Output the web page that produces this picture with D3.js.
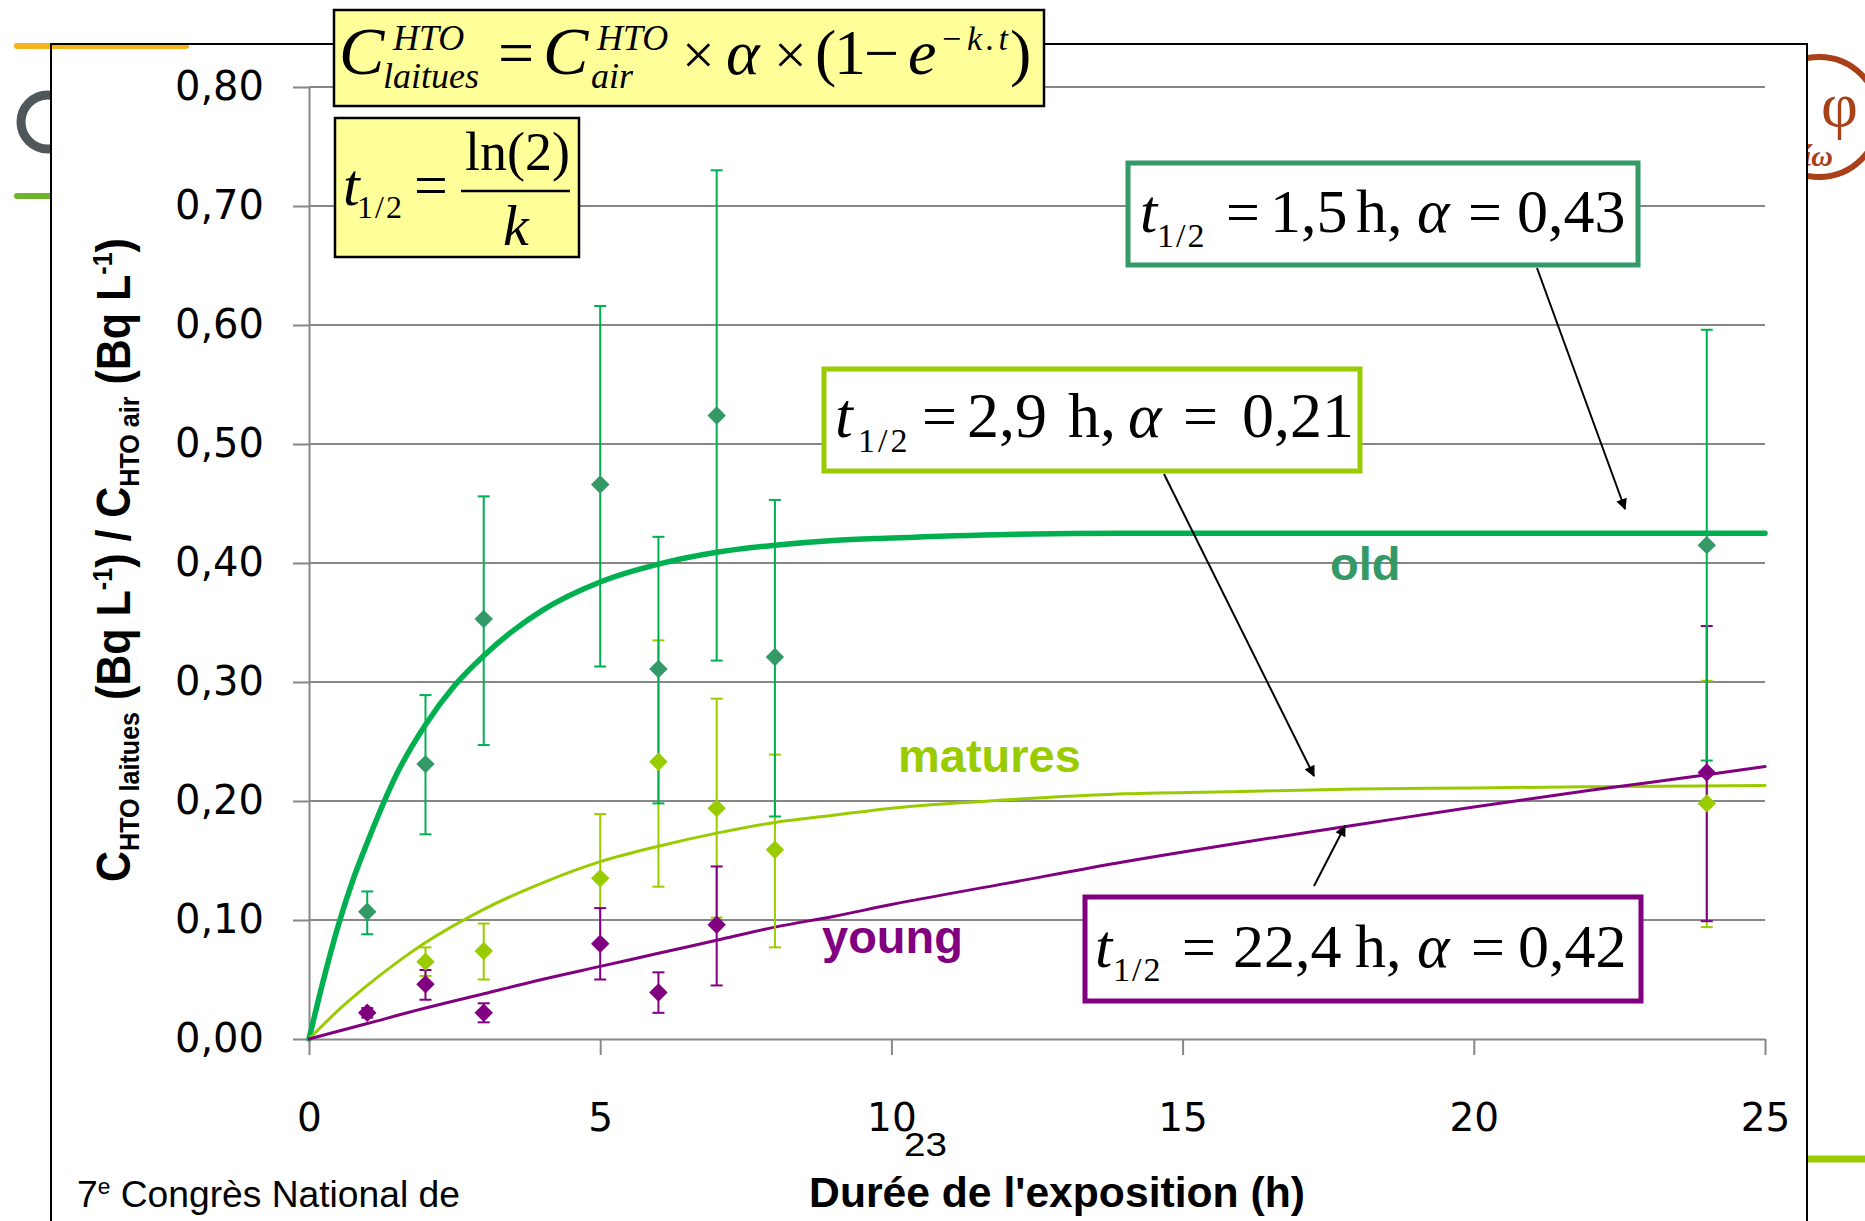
<!DOCTYPE html>
<html>
<head>
<meta charset="utf-8">
<script src="https://cdn.jsdelivr.net/npm/d3@7"></script>
<style>
  body { margin: 0; background: white; }
  svg { display: block; }
  .axis text { font-family: 'DejaVu Sans', sans-serif; fill: black; }
  .axis path, .axis line { stroke: #878787; stroke-width: 2; }
  .serif { font-family: 'Liberation Serif', 'Times New Roman', serif; fill: black; }
</style>
</head>
<body>
<div id="graph"></div>
<script>

  // measured points (exposure time in h, ratio C laitues / C air)
  const oldTimes = [1, 2, 3, 5, 6, 7, 8, 24];
  const oldValues = [0.107, 0.231, 0.353, 0.466, 0.311, 0.524, 0.321, 0.415];
  const oldHigh = [0.124, 0.289, 0.456, 0.616, 0.422, 0.730, 0.453, 0.596];
  const oldLow = [0.088, 0.172, 0.247, 0.313, 0.198, 0.318, 0.187, 0.234];

  const maturesTimes = [2, 3, 5, 6, 7, 8, 24];
  const maturesValues = [0.065, 0.074, 0.135, 0.233, 0.194, 0.159, 0.198];
  const maturesHigh = [0.077, 0.097, 0.189, 0.335, 0.286, 0.239, 0.301];
  const maturesLow = [0.053, 0.050, 0.081, 0.128, 0.102, 0.077, 0.094];

  const youngTimes = [1, 2, 3, 5, 6, 7, 24];
  const youngValues = [0.022, 0.046, 0.022, 0.080, 0.039, 0.096, 0.224];
  const youngHigh = [0.026, 0.058, 0.030, 0.110, 0.056, 0.145, 0.347];
  const youngLow = [0.018, 0.033, 0.014, 0.050, 0.022, 0.045, 0.099];

  // fitted curves
  const oldCurveT = [0, 0.25, 0.5, 0.75, 1, 1.5, 2, 2.5, 3, 3.5, 4, 5, 6, 7, 8, 9, 10, 12, 14, 25];
  const oldCurveV = [0, 0.050, 0.095, 0.133, 0.165, 0.222, 0.264, 0.297, 0.322, 0.343, 0.360, 0.384, 0.399, 0.409, 0.415, 0.419, 0.421, 0.424, 0.425, 0.425];
  const maturesCurveT = [0, 0.5, 1, 1.5, 2, 3, 4, 5, 6, 7, 8, 9, 10, 12, 14, 16, 18, 20, 22, 25];
  const maturesCurveV = [0, 0.024, 0.045, 0.064, 0.081, 0.109, 0.131, 0.149, 0.162, 0.173, 0.182, 0.188, 0.194, 0.201, 0.206, 0.208, 0.210, 0.211, 0.212, 0.213];
  const youngCurveT = [0, 1, 2, 3, 4, 5, 6, 7, 8, 9, 10, 12, 14, 16, 18, 20, 22, 24, 25];
  const youngCurveV = [0, 0.013, 0.026, 0.038, 0.050, 0.061, 0.072, 0.083, 0.094, 0.103, 0.113, 0.131, 0.149, 0.165, 0.180, 0.195, 0.209, 0.222, 0.229];

  const xTicks = [0, 5, 10, 15, 20, 25];
  const xTickLabels = ['0', '5', '10', '15', '20', '25'];
  const yTicks = [0, 0.1, 0.2, 0.3, 0.4, 0.5, 0.6, 0.7, 0.8];
  const yTickLabels = ['0,00', '0,10', '0,20', '0,30', '0,40', '0,50', '0,60', '0,70', '0,80'];

  const W = 1865, H = 1221;
  const svg = d3.select('#graph').append('svg')
    .attr('width', W).attr('height', H);

  // ---- slide decorations behind the chart frame
  svg.append('circle').attr('cx', 48).attr('cy', 122).attr('r', 27)
    .style('fill', 'none').style('stroke', '#50575b').style('stroke-width', 9);
  svg.append('line').attr('x1', 17).attr('x2', 60).attr('y1', 196).attr('y2', 196)
    .style('stroke', '#6db52a').style('stroke-width', 6).style('stroke-linecap', 'round');
  svg.append('circle').attr('cx', 1819).attr('cy', 117).attr('r', 60)
    .style('fill', 'none').style('stroke', '#a8401a').style('stroke-width', 6);
  svg.append('text').attr('class', 'serif').attr('x', 1821).attr('y', 126)
    .style('font-size', '64px').style('fill', '#a8401a').text('φ');
  svg.append('text').attr('class', 'serif').attr('x', 1803).attr('y', 166)
    .style('font-size', '30px').style('font-style', 'italic').style('font-weight', 'bold')
    .style('fill', '#a8401a').text('ίω');
  svg.append('line').attr('x1', 1800).attr('x2', 1865).attr('y1', 1159).attr('y2', 1159)
    .style('stroke', '#99cc00').style('stroke-width', 7);

  // chart frame
  svg.append('rect').attr('x', 51).attr('y', 44).attr('width', 1756).attr('height', 1200)
    .style('fill', 'white');
  svg.append('line').attr('x1', 17).attr('x2', 186).attr('y1', 46).attr('y2', 46)
    .style('stroke', '#f5b21a').style('stroke-width', 6).style('stroke-linecap', 'round');
  svg.append('rect').attr('x', 51).attr('y', 44).attr('width', 1756).attr('height', 1200)
    .style('fill', 'none').style('stroke', 'black').style('stroke-width', 2);

  // ---- scales & axes
  const x = d3.scaleLinear().domain([0, 25]).range([309, 1765]);
  const y = d3.scaleLinear().domain([0, 0.8]).range([1039, 87]);

  svg.append('g').selectAll('line.grid')
    .data(yTicks.slice(1)).enter().append('line')
    .attr('x1', x(0)).attr('x2', x(25))
    .attr('y1', d => y(d)).attr('y2', d => y(d))
    .style('stroke', '#878787').style('stroke-width', 2);

  svg.append('g').attr('class', 'axis')
    .attr('transform', 'translate(0,' + y(0) + ')')
    .call(d3.axisBottom(x).tickValues(xTicks).tickFormat((d, i) => xTickLabels[i])
      .tickSize(16).tickSizeOuter(0).tickPadding(48))
    .selectAll('text').style('font-size', '39px');

  svg.append('g').attr('class', 'axis')
    .attr('transform', 'translate(' + x(0) + ',0)')
    .call(d3.axisLeft(y).tickValues(yTicks).tickFormat((d, i) => yTickLabels[i])
      .tickSize(16).tickSizeOuter(0).tickPadding(29))
    .selectAll('text').style('font-size', '40px');

  // ---- curves
  const line = d3.line().x(d => x(d[0])).y(d => y(d[1])).curve(d3.curveMonotoneX);
  const curves = [
    {t: oldCurveT, v: oldCurveV, color: '#00b050', w: 5.5},
    {t: maturesCurveT, v: maturesCurveV, color: '#99cc00', w: 3},
    {t: youngCurveT, v: youngCurveV, color: '#800080', w: 3}
  ];
  curves.forEach(c => {
    svg.append('path').datum(c.t.map((t, i) => [t, c.v[i]]))
      .attr('d', line)
      .style('fill', 'none').style('stroke', c.color).style('stroke-width', c.w)
      .style('stroke-linejoin', 'round').style('stroke-linecap', 'round');
  });

  // ---- error bars & markers
  const series = [
    {t: maturesTimes, v: maturesValues, hi: maturesHigh, lo: maturesLow, bar: '#99cc00', mark: '#99cc00'},
    {t: youngTimes, v: youngValues, hi: youngHigh, lo: youngLow, bar: '#800080', mark: '#800080'},
    {t: oldTimes, v: oldValues, hi: oldHigh, lo: oldLow, bar: '#00b050', mark: '#339966'}
  ];
  series.forEach(s => {
    const pts = s.t.map((t, i) => ({t: t, v: s.v[i], hi: s.hi[i], lo: s.lo[i]}));
    const g = svg.append('g').style('stroke', s.bar).style('stroke-width', 2);
    g.selectAll('line.v').data(pts).enter().append('line')
      .attr('x1', d => x(d.t)).attr('x2', d => x(d.t))
      .attr('y1', d => y(d.hi)).attr('y2', d => y(d.lo));
    ['hi', 'lo'].forEach(k => {
      g.selectAll('line.' + k).data(pts).enter().append('line')
        .attr('x1', d => x(d.t) - 6).attr('x2', d => x(d.t) + 6)
        .attr('y1', d => y(d[k])).attr('y2', d => y(d[k]));
    });
  });
  series.forEach(s => {
    svg.append('g').selectAll('path').data(s.t.map((t, i) => [t, s.v[i]]))
      .enter().append('path')
      .attr('d', d3.symbol().type(d3.symbolSquare).size(170))
      .attr('transform', d => 'translate(' + x(d[0]) + ',' + y(d[1]) + ') rotate(45)')
      .style('fill', s.mark);
  });

  // ---- series names
  const names = [
    {text: 'old', x: 1330, y: 580, color: '#339966'},
    {text: 'matures', x: 898, y: 772, color: '#99cc00'},
    {text: 'young', x: 822, y: 953, color: '#800080'}
  ];
  names.forEach(n => {
    svg.append('text').attr('x', n.x).attr('y', n.y)
      .style('font-family', "'Liberation Sans', Arial, sans-serif")
      .style('font-weight', 'bold').style('font-size', '47px')
      .style('fill', n.color).text(n.text);
  });

  // ---- annotation boxes
  function piece(p) {
    svg.append('text').attr('class', 'serif').attr('x', p[1]).attr('y', p[2])
      .style('font-size', p[3] + 'px').style('font-style', p[4] ? 'italic' : 'normal')
      .style('letter-spacing', (p[5] || 0) + 'px')
      .text(p[0]);
  }

  svg.append('rect').attr('x', 334).attr('y', 10).attr('width', 710).attr('height', 96)
    .style('fill', '#ffff99').style('stroke', 'black').style('stroke-width', 2.5);
  [['C', 339, 74, 68, 1], ['HTO', 393, 50, 36, 1], ['laitues', 383, 88, 36, 1],
   ['=', 498, 74, 64, 0], ['C', 543, 74, 68, 1], ['HTO', 597, 50, 36, 1], ['air', 591, 88, 36, 1],
   ['×', 682, 74, 58, 0], ['α', 726, 74, 64, 1], ['×', 774, 74, 58, 0],
   ['(', 815, 74, 64, 0], ['1', 834, 74, 64, 0], ['−', 864, 74, 62, 0], ['e', 908, 74, 64, 1],
   ['−k.t', 940, 50, 34, 1, 4], [')', 1010, 74, 64, 0]].forEach(piece);

  svg.append('rect').attr('x', 335).attr('y', 118).attr('width', 244).attr('height', 139)
    .style('fill', '#ffff99').style('stroke', 'black').style('stroke-width', 2.5);
  [['t', 343, 205, 60, 1], ['1/2', 357, 218, 32, 0, 2], ['=', 414, 205, 60, 0],
   ['ln(2)', 465, 170, 54, 0], ['k', 503, 245, 58, 1]].forEach(piece);
  svg.append('line').attr('x1', 461).attr('x2', 570).attr('y1', 191).attr('y2', 191)
    .style('stroke', 'black').style('stroke-width', 2.5);

  const labelBoxes = [
    {x: 1128, y: 163, w: 510, h: 102, color: '#339966', pieces: [
      ['t', 1140, 232, 62, 1], ['1/2', 1157, 247, 34, 0, 2], ['=', 1226, 232, 60, 0],
      ['1,5', 1270, 232, 62, 0], ['h,', 1356, 232, 62, 0], ['α', 1417, 232, 62, 1],
      ['=', 1468, 232, 60, 0], ['0,43', 1517, 232, 62, 0]]},
    {x: 824, y: 369, w: 536, h: 102, color: '#99cc00', pieces: [
      ['t', 835, 437, 64, 1], ['1/2', 858, 452, 34, 0, 3], ['=', 922, 437, 62, 0],
      ['2,9', 967, 437, 64, 0], ['h,', 1068, 437, 64, 0], ['α', 1128, 437, 64, 1],
      ['=', 1183, 437, 62, 0], ['0,21', 1242, 437, 64, 0]]},
    {x: 1085, y: 897, w: 556, h: 104, color: '#800080', pieces: [
      ['t', 1095, 967, 62, 1], ['1/2', 1113, 981, 34, 0, 2], ['=', 1182, 967, 60, 0],
      ['22,4', 1233, 967, 62, 0], ['h,', 1355, 967, 62, 0], ['α', 1417, 967, 62, 1],
      ['=', 1471, 967, 60, 0], ['0,42', 1518, 967, 62, 0]]}
  ];
  labelBoxes.forEach(b => {
    svg.append('rect').attr('x', b.x).attr('y', b.y).attr('width', b.w).attr('height', b.h)
      .style('fill', 'white').style('stroke', b.color).style('stroke-width', 5);
    b.pieces.forEach(piece);
  });

  // ---- arrows
  svg.append('defs').append('marker').attr('id', 'arrow')
    .attr('viewBox', '0 0 10 10').attr('refX', 9).attr('refY', 5)
    .attr('markerWidth', 15).attr('markerHeight', 11).attr('markerUnits', 'userSpaceOnUse')
    .attr('orient', 'auto')
    .append('path').attr('d', 'M0,0 L10,5 L0,10 z').style('fill', 'black');
  const arrows = [[1537, 268, 1625, 509], [1164, 474, 1314, 776], [1314, 886, 1345, 826]];
  arrows.forEach(a => {
    svg.append('line').attr('x1', a[0]).attr('y1', a[1]).attr('x2', a[2]).attr('y2', a[3])
      .style('stroke', 'black').style('stroke-width', 2).attr('marker-end', 'url(#arrow)');
  });

  // ---- axis titles and footer
  function fit(text, width) {
    const len = text.node().getComputedTextLength();
    return width / len;
  }

  const yTitle = svg.append('g').attr('transform', 'translate(130,560) rotate(-90)')
    .append('text').attr('text-anchor', 'middle')
    .style('font-family', "'Liberation Sans', Arial, sans-serif")
    .style('font-weight', 'bold').style('font-size', '48px');
  [['C', 0, 48], ['HTO laitues', 9, 28], [' (Bq L', -9, 48], ['-1', -18, 28], [') / C', 18, 48],
   ['HTO air', 9, 28], [' (Bq L', -9, 48], ['-1', -18, 28], [')', 18, 48]].forEach(p => {
    yTitle.append('tspan').attr('dy', p[1]).style('font-size', p[2] + 'px').text(p[0]);
  });
  yTitle.attr('transform', 'scale(' + fit(yTitle, 644) + ',1)');

  const xTitle = svg.append('text').attr('text-anchor', 'middle')
    .style('font-family', "'Liberation Sans', Arial, sans-serif")
    .style('font-weight', 'bold').style('font-size', '42px')
    .text("Durée de l'exposition (h)");
  xTitle.attr('transform', 'translate(1057,1207) scale(' + fit(xTitle, 496) + ',1)');

  const footer = svg.append('text')
    .style('font-family', "'Liberation Sans', Arial, sans-serif").style('font-size', '36px');
  footer.append('tspan').text('7');
  footer.append('tspan').attr('dy', -13).style('font-size', '22px').text('e');
  footer.append('tspan').attr('dy', 13).text(' Congrès National de');
  footer.attr('transform', 'translate(77,1207) scale(' + fit(footer, 383) + ',1)');

  const pageNum = svg.append('text')
    .style('font-family', "'Liberation Sans', Arial, sans-serif").style('font-size', '33px')
    .text('23');
  pageNum.attr('transform', 'translate(904,1156) scale(' + fit(pageNum, 43) + ',1)');

</script>
</body>
</html>
